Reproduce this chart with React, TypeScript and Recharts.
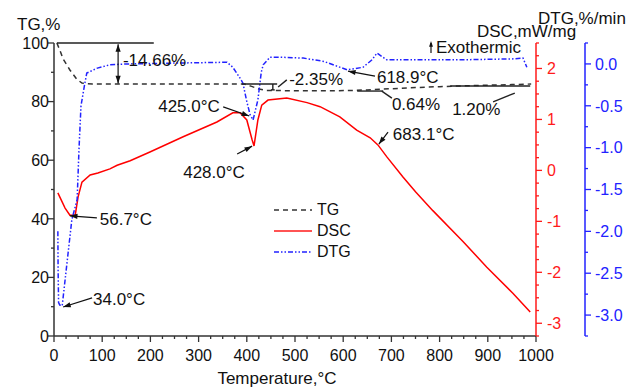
import React from "react";
import { ComposedChart, Line, XAxis, YAxis, Legend, ReferenceLine, ReferenceDot } from "recharts";

// temperature (°C) / value pairs
const tgTemp = [6, 12, 19, 33, 47, 58, 80, 200, 300, 395, 410, 425, 440, 500, 573, 620, 650, 700, 750, 800, 850, 900, 950, 990];
const tgVal = [100, 97.6, 94.5, 90.8, 87.7, 86.3, 86.0, 86.0, 86.0, 86.0, 85.2, 84.3, 83.8, 83.7, 83.7, 83.8, 84.0, 84.4, 84.8, 85.1, 85.4, 85.6, 85.8, 86.0];

const dscTemp = [8, 23, 33, 44, 50, 58, 75, 91, 116, 131, 158, 199, 268, 338, 371, 386, 400, 411, 415, 423, 431, 444, 483, 525, 552, 593, 628, 656, 672, 691, 724, 750, 786, 849, 898, 952, 988];
const dscVal = [-0.44, -0.74, -0.88, -0.88, -0.52, -0.23, -0.09, -0.05, 0.03, 0.1, 0.19, 0.36, 0.66, 0.95, 1.13, 1.13, 0.99, 0.6, 0.48, 0.99, 1.28, 1.38, 1.42, 1.33, 1.25, 1.05, 0.79, 0.64, 0.5, 0.26, -0.13, -0.42, -0.79, -1.4, -1.9, -2.41, -2.78];

const dtgTemp = [8, 8.5, 9.5, 12, 17, 37, 48, 52, 56, 64, 68, 90, 116, 150, 250, 359, 371, 386, 392, 400, 407, 413, 418, 423, 430, 434, 448, 470, 517, 560, 608, 641, 660, 670, 690, 718, 850, 950, 973, 981];
const dtgVal = [-2.0, -2.45, -2.85, -2.88, -2.89, -1.86, -1.62, -1.0, -0.5, -0.23, -0.11, -0.05, -0.01, 0.0, 0.01, 0.02, -0.04, -0.17, -0.23, -0.45, -0.61, -0.67, -0.55, -0.43, -0.1, -0.01, 0.08, 0.08, 0.07, 0.03, -0.07, -0.04, 0.05, 0.13, 0.05, 0.05, 0.05, 0.06, 0.07, -0.04];

const xMajor = [0, 100, 200, 300, 400, 500, 600, 700, 800, 900, 1000];
const tgMajor = [0, 20, 40, 60, 80, 100];
const dscMajor = [-3, -2, -1, 0, 1, 2];
const dtgMajor = [-3.0, -2.5, -2.0, -1.5, -1.0, -0.5, 0.0];
const legendOrder = ["TG", "DSC", "DTG"];

const steps = (a: number, b: number, s: number) => {
  const out: number[] = [];
  for (let v = a; v <= b + 1e-9; v += s) out.push(Math.round(v * 1000) / 1000);
  return out;
};

// annotations, in (temperature, TG%) coordinates
const arrows = [
  { from: [351, 78.2], to: [405, 75.1] },
  { from: [380, 62.1], to: [411, 64.8] },
  { from: [666, 88.7], to: [610, 90.4] },
  { from: [693, 69.6], to: [674, 65.5] },
  { from: [89, 40.3], to: [33, 41.0] },
  { from: [79, 13.0], to: [19, 9.9] },
];
const guideLines = [
  { from: [6, 100], to: [207, 100] },
  { from: [390, 86], to: [463, 86] },
  { from: [454, 86], to: [454, 84] },
  { from: [450, 84], to: [458, 84] },
  { from: [465, 85], to: [483, 87.4] },
  { from: [629, 83.6], to: [683, 83.6] },
  { from: [680, 83.6], to: [701, 81.2] },
  { from: [822, 85.3], to: [988, 85.3] },
  { from: [956, 82.9], to: [911, 79.9] },
];
const notes = [
  { t: 143, y: 92.2, text: "-14.66%", anchor: "start" },
  { t: 488, y: 85.7, text: "-2.35%", anchor: "start" },
  { t: 670, y: 86.3, text: "618.9°C", anchor: "start" },
  { t: 701, y: 77.1, text: "0.64%", anchor: "start" },
  { t: 826, y: 75.4, text: "1.20%", anchor: "start" },
  { t: 344, y: 76.5, text: "425.0°C", anchor: "end" },
  { t: 268, y: 53.9, text: "428.0°C", anchor: "start" },
  { t: 703, y: 66.9, text: "683.1°C", anchor: "start" },
  { t: 95, y: 37.9, text: "56.7°C", anchor: "start" },
  { t: 81, y: 10.6, text: "34.0°C", anchor: "start" },
];

const FONT = "'Liberation Sans', Arial, sans-serif";
const AXIS = "#333";
const RED = "#ff1a1a";
const BLUE = "#2222ff";

const pts = (t: number[], v: number[]) => t.map((x, i) => ({ t: x, v: v[i] }));

const isMajor = (majors: number[], v: number) => majors.some((m) => Math.abs(m - v) < 1e-6);

const bottomTick = (p: any) => {
  const v = p.payload.value;
  const major = isMajor(xMajor, v);
  return (
    <g>
      <line x1={p.x} y1={p.y} x2={p.x} y2={p.y + (major ? 6 : 3)} stroke={AXIS} strokeWidth={1.3} />
      {major && (
        <text x={p.x} y={p.y + 25} textAnchor="middle" fontSize={16} fill="#111">
          {v}
        </text>
      )}
    </g>
  );
};

const leftTick = (p: any) => {
  const v = p.payload.value;
  const major = isMajor(tgMajor, v);
  return (
    <g>
      <line x1={p.x} y1={p.y} x2={p.x - (major ? 6 : 3)} y2={p.y} stroke={AXIS} strokeWidth={1.3} />
      {major && (
        <text x={p.x - 5} y={p.y} dy="0.36em" textAnchor="end" fontSize={16} fill="#111">
          {v}
        </text>
      )}
    </g>
  );
};

const rightTick = (majors: number[], color: string, gap: number, fmt: (v: number) => string) => (p: any) => {
  const v = p.payload.value;
  const major = isMajor(majors, v);
  return (
    <g>
      <line x1={p.x} y1={p.y} x2={p.x + (major ? 6 : 3)} y2={p.y} stroke={color} strokeWidth={1.3} />
      {major && (
        <text x={p.x + gap} y={p.y} dy="0.36em" textAnchor="start" fontSize={16} fill={color}>
          {fmt(v)}
        </text>
      )}
    </g>
  );
};

const head = (x: number, y: number, a: number, s = 8) => {
  const w = 0.33;
  const p1 = [x - s * Math.cos(a - w), y - s * Math.sin(a - w)];
  const p2 = [x - s * Math.cos(a + w), y - s * Math.sin(a + w)];
  return `${x},${y} ${p1[0]},${p1[1]} ${p2[0]},${p2[1]}`;
};

const arrowShape = (both: boolean) => (p: any) => {
  const { x1, y1, x2, y2 } = p;
  const a = Math.atan2(y2 - y1, x2 - x1);
  return (
    <g>
      <line x1={x1} y1={y1} x2={x2} y2={y2} stroke="#111" strokeWidth={1.2} />
      <polygon points={head(x2, y2, a)} fill="#111" />
      {both && <polygon points={head(x1, y1, a + Math.PI)} fill="#111" />}
    </g>
  );
};

const plainShape = (p: any) => <line x1={p.x1} y1={p.y1} x2={p.x2} y2={p.y2} stroke="#222" strokeWidth={1.4} />;

const legendItems: Record<string, { color: string; dash?: string }> = {
  TG: { color: AXIS, dash: "5 4" },
  DSC: { color: RED },
  DTG: { color: BLUE, dash: "5 2 1.5 2 1.5 2" },
};

const LegendBox = (props: any) => {
  const items = [...(props.payload || [])].sort(
    (a: any, b: any) => legendOrder.indexOf(a.value) - legendOrder.indexOf(b.value)
  );
  return (
    <div style={{ fontFamily: FONT, fontSize: 16, color: "#111" }}>
      {items.map((e: any) => {
        const s = legendItems[e.value] || { color: e.color };
        return (
          <div key={e.value} style={{ display: "flex", alignItems: "center", height: 21 }}>
            <svg width={40} height={10}>
              <line x1={0} y1={5} x2={38} y2={5} stroke={s.color} strokeWidth={1.6} strokeDasharray={s.dash} />
            </svg>
            <span style={{ marginLeft: 3 }}>{e.value}</span>
          </div>
        );
      })}
    </div>
  );
};

export default function App() {
  return (
    <div style={{ position: "absolute", left: 0, top: 0, background: "#fff", fontFamily: FONT }}>
      <ComposedChart width={638} height={390} margin={{ top: 43, right: 0, bottom: 0, left: 0 }}>
        <XAxis
          dataKey="t"
          type="number"
          domain={[0, 1000]}
          ticks={steps(0, 1000, 25)}
          interval={0}
          height={54}
          tickSize={0}
          tickMargin={0}
          tickLine={false}
          tick={bottomTick}
          axisLine={{ stroke: AXIS, strokeWidth: 1.5 }}
          label={{
            content: (p: any) => (
              <text x={p.viewBox.x + p.viewBox.width / 2 - 18} y={p.viewBox.y + 48} textAnchor="middle" fontSize={17} fill="#111">
                Temperature,°C
              </text>
            ),
          }}
        />
        <YAxis
          yAxisId="tg"
          orientation="left"
          width={54}
          domain={[0, 100]}
          ticks={steps(0, 100, 10)}
          interval={0}
          tickSize={0}
          tickMargin={0}
          tickLine={false}
          tick={leftTick}
          axisLine={{ stroke: AXIS, strokeWidth: 1.5 }}
          label={{
            content: (p: any) => (
              <text x={p.viewBox.x + 17} y={p.viewBox.y - 13} fontSize={17} fill="#111">
                TG,%
              </text>
            ),
          }}
        />
        <YAxis
          yAxisId="dsc"
          orientation="right"
          width={49}
          domain={[-3.25, 2.5]}
          ticks={steps(-3.25, 2.5, 0.25)}
          interval={0}
          tickSize={0}
          tickMargin={0}
          tickLine={false}
          tick={rightTick(dscMajor, RED, 11, (v) => String(v))}
          axisLine={{ stroke: RED, strokeWidth: 1.5 }}
          label={{
            content: (p: any) => (
              <g>
                <text x={p.viewBox.x - 59} y={p.viewBox.y - 6} fontSize={17} fill="#111">
                  DSC,mW/mg
                </text>
                <line x1={p.viewBox.x - 105} y1={p.viewBox.y + 10} x2={p.viewBox.x - 105} y2={p.viewBox.y} stroke="#111" strokeWidth={1.2} />
                <polygon points={head(p.viewBox.x - 105, p.viewBox.y - 2, -Math.PI / 2, 6)} fill="#111" />
                <text x={p.viewBox.x - 100} y={p.viewBox.y + 10} fontSize={17} fill="#111">
                  Exothermic
                </text>
              </g>
            ),
          }}
        />
        <YAxis
          yAxisId="dtg"
          orientation="right"
          width={53}
          domain={[-3.25, 0.25]}
          ticks={steps(-3.25, 0.25, 0.25)}
          interval={0}
          tickSize={0}
          tickMargin={0}
          tickLine={false}
          tick={rightTick(dtgMajor, BLUE, 10, (v) => v.toFixed(1))}
          axisLine={{ stroke: BLUE, strokeWidth: 1.5 }}
          label={{
            content: (p: any) => (
              <text x={p.viewBox.x - 47} y={p.viewBox.y - 19} fontSize={17} fill="#111">
                DTG,%/min
              </text>
            ),
          }}
        />
        <Legend
          layout="vertical"
          align="center"
          verticalAlign="middle"
          content={LegendBox}
          wrapperStyle={{ left: 274, top: 199, width: 100 }}
        />
        <Line
          name="TG"
          yAxisId="tg"
          data={pts(tgTemp, tgVal)}
          dataKey="v"
          stroke={AXIS}
          strokeWidth={1.5}
          strokeDasharray="5 4"
          dot={false}
          isAnimationActive={false}
        />
        <Line
          name="DSC"
          yAxisId="dsc"
          data={pts(dscTemp, dscVal)}
          dataKey="v"
          stroke="#ff0000"
          strokeWidth={1.5}
          dot={false}
          isAnimationActive={false}
        />
        <Line
          name="DTG"
          yAxisId="dtg"
          data={pts(dtgTemp, dtgVal)}
          dataKey="v"
          stroke={BLUE}
          strokeWidth={1.5}
          strokeDasharray="5 2 1.5 2 1.5 2"
          dot={false}
          isAnimationActive={false}
        />
        {guideLines.map((g, i) => (
          <ReferenceLine
            key={"g" + i}
            yAxisId="tg"
            segment={[{ x: g.from[0], y: g.from[1] }, { x: g.to[0], y: g.to[1] }]}
            shape={plainShape}
            ifOverflow="visible"
          />
        ))}
        <ReferenceLine
          yAxisId="tg"
          segment={[{ x: 133, y: 99.6 }, { x: 133, y: 86.2 }]}
          shape={arrowShape(true)}
          ifOverflow="visible"
        />
        {arrows.map((a, i) => (
          <ReferenceLine
            key={"a" + i}
            yAxisId="tg"
            segment={[{ x: a.from[0], y: a.from[1] }, { x: a.to[0], y: a.to[1] }]}
            shape={arrowShape(false)}
            ifOverflow="visible"
          />
        ))}
        {notes.map((n, i) => (
          <ReferenceDot
            key={"n" + i}
            yAxisId="tg"
            x={n.t}
            y={n.y}
            r={0}
            ifOverflow="visible"
            shape={(p: any) => (
              <text x={p.cx} y={p.cy} textAnchor={n.anchor as any} fontSize={17} fill="#111">
                {n.text}
              </text>
            )}
          />
        ))}
      </ComposedChart>
    </div>
  );
}
